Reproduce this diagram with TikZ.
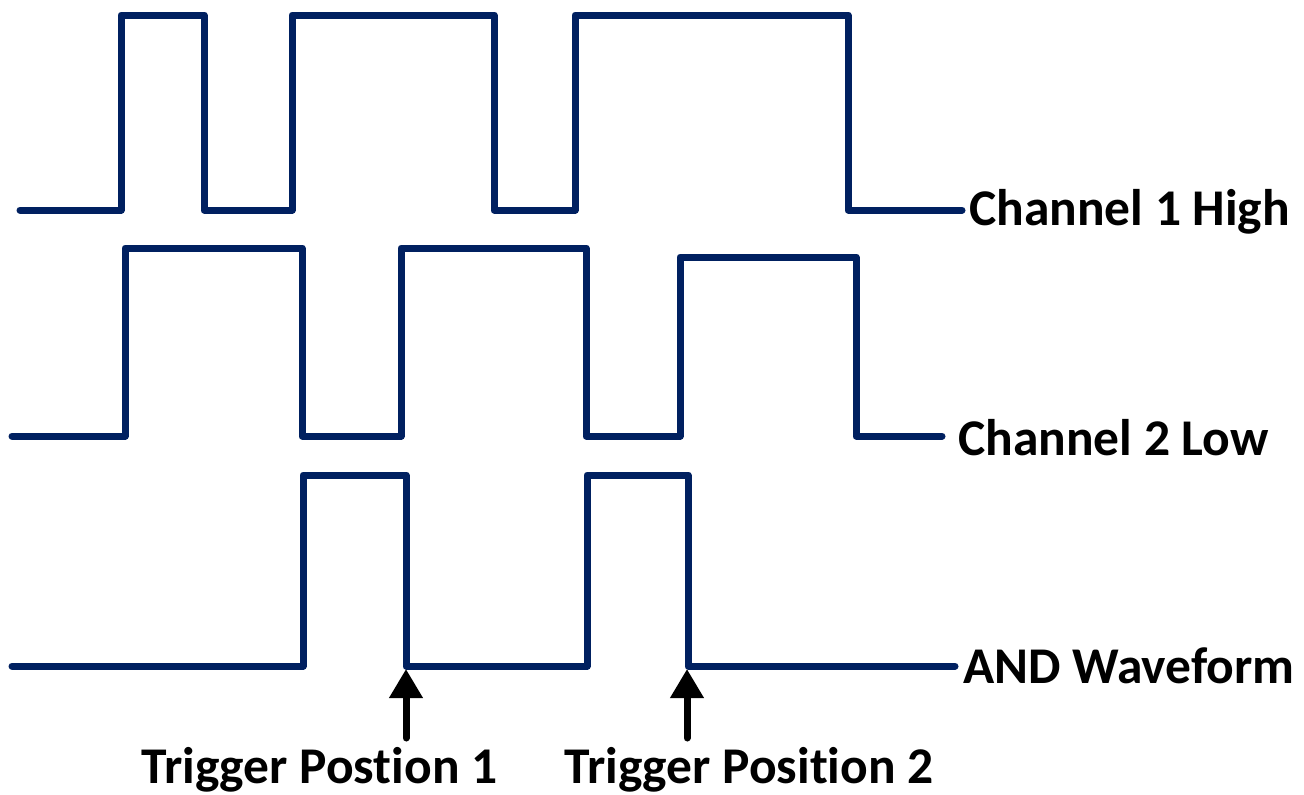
\documentclass[tikz,border=0pt]{standalone}
\usepackage{fontspec}
\setmainfont[Ligatures={NoCommon}]{Carlito}
\usetikzlibrary{arrows.meta}
\definecolor{wave}{HTML}{002060}
\begin{document}
\begin{tikzpicture}[x=1pt,y=-1pt,
  wavestyle/.style={draw=wave,line width=7pt,line join=round,line cap=round},
  trigarrow/.style={draw=black,line width=7pt,line cap=round,-{Triangle[width=32pt,length=29pt]}},
  lbl/.style={inner sep=0pt,anchor=base west,font=\bfseries\fontsize{51.5}{60}\selectfont}]
\useasboundingbox (0,0) rectangle (1304,795);
% Channel 1
\draw[wavestyle] (20,210) -- (121,210) -- (121,15) -- (204,15) -- (204,210) -- (292,210) -- (292,15) -- (494,15) -- (494,210) -- (575,210) -- (575,15) -- (848,15) -- (848,210) -- (962,210);
% Channel 2
\draw[wavestyle] (12,436) -- (125,436) -- (125,248) -- (302,248) -- (302,436) -- (401,436) -- (401,248) -- (586,248) -- (586,436) -- (680,436) -- (680,257) -- (856,257) -- (856,436) -- (942,436);
% AND
\draw[wavestyle] (12,666) -- (303,666) -- (303,475) -- (406,475) -- (406,666) -- (587,666) -- (587,475) -- (688,475) -- (688,666) -- (955,666);
% labels
\node[lbl] (ch1) at (969,225) {Channel 1 High};
\node[lbl] (ch2) at (958,455) {Channel 2 Low};
\node[lbl] (andw) at (963,683) {AND Waveform};
\node[lbl] (t1) at (141,783) {Trigger Postion 1};
\node[lbl] (t2) at (564,783) {Trigger Position 2};
% arrows
\coordinate (a1s) at (406,738);
\coordinate (a1e) at (406,669);
\coordinate (a2s) at (687,738);
\coordinate (a2e) at (687,669);
\draw[trigarrow] (a1s) -- (a1e);
\draw[trigarrow] (a2s) -- (a2e);
\end{tikzpicture}
\end{document}
